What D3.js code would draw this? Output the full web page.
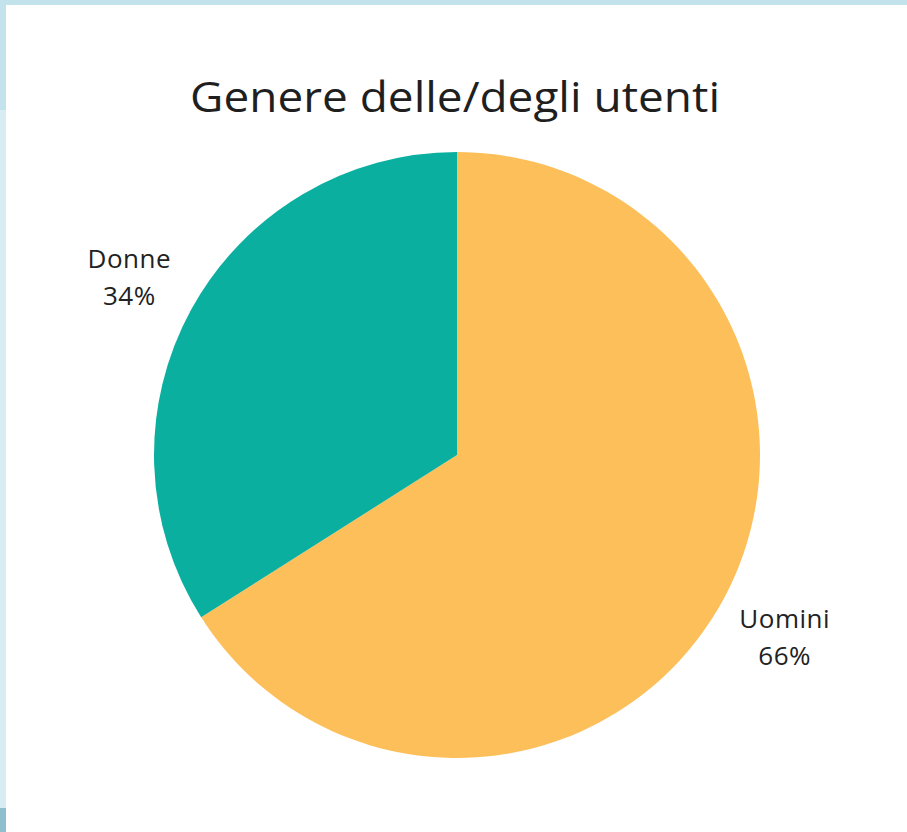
<!DOCTYPE html>
<html><head><meta charset="utf-8">
<script src="https://cdn.jsdelivr.net/npm/d3@7"></script>
<style>html,body{margin:0;padding:0;background:#fff;}svg{display:block;}text{font-variant-ligatures:none;}</style>
</head><body>
<svg id="c" width="907" height="832"></svg>
<script>
const categories = ["Uomini", "Donne"];
const values = [66, 34];
const colors = ["#fdbf5a", "#0aaf9f"];
const title = "Genere delle/degli utenti";

const svg = d3.select("#c");
// frame
svg.append("rect").attr("x",0).attr("y",0).attr("width",907).attr("height",832).attr("fill","#fff");
svg.append("rect").attr("x",0).attr("y",0).attr("width",907).attr("height",5).attr("fill","#c2e3ec");
svg.append("rect").attr("x",0).attr("y",0).attr("width",6).attr("height",832).attr("fill","#d8edf3");
svg.append("rect").attr("x",0).attr("y",0).attr("width",6).attr("height",110).attr("fill","#c2e3ec");
svg.append("rect").attr("x",0).attr("y",808).attr("width",6).attr("height",24).attr("fill","#8fbfcc");

svg.append("text").attr("x",455).attr("y",112).attr("text-anchor","middle")
  .attr("font-family","'Open Sans', sans-serif").attr("font-size",42)
  .attr("fill","#1f1f1f").attr("textLength",530).attr("lengthAdjust","spacingAndGlyphs").text(title);

const cx = 457, cy = 455, r = 303;
const g = svg.append("g").attr("transform",`translate(${cx},${cy})`);
const pie = d3.pie().sort(null).value(d=>d.v);
const data = pie(categories.map((c,i)=>({c, v:values[i], col:colors[i]})));
const arc = d3.arc().innerRadius(0).outerRadius(r);
g.selectAll("path").data(data).join("path").attr("d",arc).attr("fill",d=>d.data.col);

const labelArc = d3.arc().innerRadius(374).outerRadius(374);
data.forEach(d=>{
  const [x,y] = labelArc.centroid(d);
  const t = g.append("text").attr("text-anchor","middle")
    .attr("font-family","'Open Sans', sans-serif").attr("font-size",26).attr("fill","#222")
    .attr("letter-spacing",0.5);
  t.append("tspan").attr("x",x).attr("y",y-7).text(d.data.c);
  t.append("tspan").attr("x",x).attr("y",y+30).text(d.data.v+"%");
});
</script>
</body></html>
